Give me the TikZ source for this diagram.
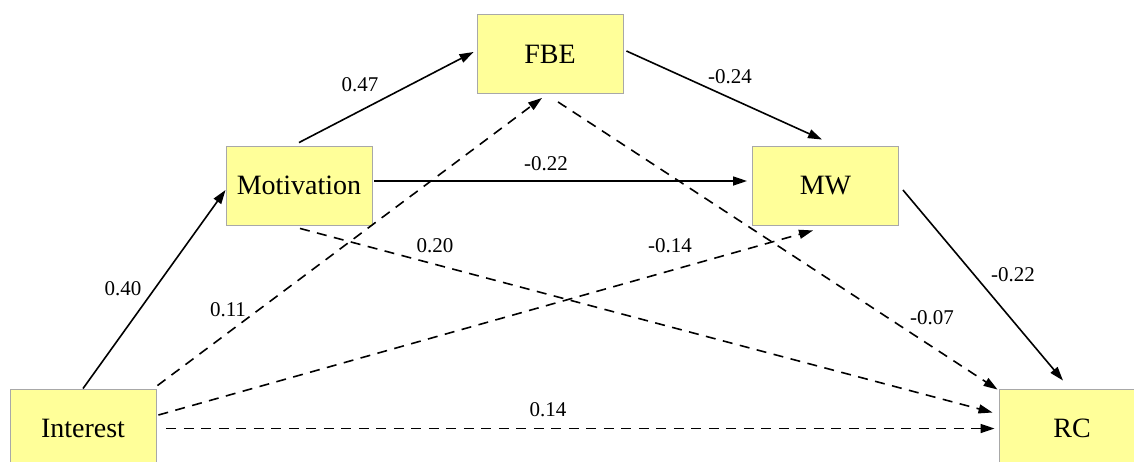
\documentclass[tikz,border=0pt]{standalone}
\usepackage{fontspec}
\setmainfont{Liberation Serif}
\usetikzlibrary{arrows.meta}
\definecolor{boxfill}{HTML}{FFFF99}
\definecolor{boxborder}{HTML}{A8A8A8}
\begin{document}
\begin{tikzpicture}[x=1pt,y=-1pt,
  box/.style={draw=boxborder,fill=boxfill,line width=0.9pt,minimum width=146pt,minimum height=79pt,inner sep=0pt,font=\fontsize{28}{30}\selectfont},
  lbl/.style={font=\fontsize{21}{24}\selectfont,inner sep=0pt},
  conn/.style={line width=1.6pt,-{Triangle[length=14pt,width=9pt]}},
  dashconn/.style={conn,dash pattern=on 10pt off 7.5pt}]
\useasboundingbox (0,0) rectangle (1134,461);
\node[box] (interest) at (83,428.5) {Interest};
\node[box] (rc) at (1072,428.5) {RC};
\node[box] (motivation) at (299,185.5) {Motivation};
\node[box] (fbe) at (550,54) {FBE};
\node[box] (mw) at (825.5,185.5) {MW};
% solid paths
\draw[conn] (interest.north) -- ([yshift=-4.5pt]motivation.west);
\draw[conn] ([yshift=3pt]motivation.north) -- ([xshift=-3pt,yshift=2pt]fbe.west);
\draw[conn] ([xshift=3pt,yshift=3pt]fbe.east) -- ([xshift=-3.5pt,yshift=6pt]mw.north);
\draw[conn] ([xshift=2pt,yshift=4.5pt]motivation.east) -- ([xshift=-5pt,yshift=4.5pt]mw.west);
\draw[conn] ([xshift=4pt,yshift=-4.5pt]mw.east) -- ([xshift=-9pt,yshift=8pt]rc.north);
% dashed paths
\draw[dashconn] ([xshift=1pt,yshift=3pt]interest.north east) -- ([xshift=-8pt,yshift=-4pt]fbe.south);
\draw[dashconn] ([xshift=2pt,yshift=13.5pt]interest.east) -- ([xshift=-12.5pt,yshift=-5pt]mw.south);
\draw[dashconn] ([xshift=10pt]interest.east) -- ([xshift=-4pt]rc.west);
\draw[dashconn] ([xshift=1pt,yshift=-3pt]motivation.south) -- ([xshift=-6pt,yshift=16pt]rc.west);
\draw[dashconn] ([xshift=8pt,yshift=-8pt]fbe.south) -- ([xshift=-1pt,yshift=-1pt]rc.north west);
% labels
\node[lbl] (l1) at (123,289) {0.40};
\node[lbl] (l2) at (360,85) {0.47};
\node[lbl] (l3) at (730,77) {-0.24};
\node[lbl] (l4) at (546,164) {-0.22};
\node[lbl] (l5) at (1013,275) {-0.22};
\node[lbl] (l6) at (228,310) {0.11};
\node[lbl] (l7) at (670,246) {-0.14};
\node[lbl] (l8) at (548,410) {0.14};
\node[lbl] (l9) at (435,246) {0.20};
\node[lbl] (l10) at (932,318) {-0.07};
\end{tikzpicture}
\end{document}
